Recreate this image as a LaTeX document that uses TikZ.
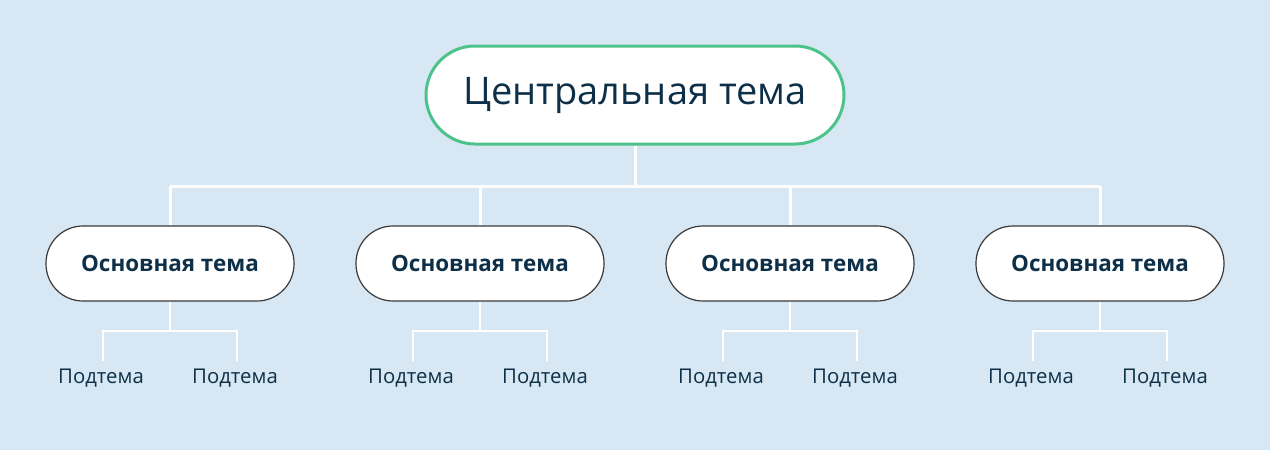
\documentclass[tikz,border=0pt]{standalone}
\usepackage{fontspec}
\setmainfont{Open Sans}
\definecolor{bg}{HTML}{D7E8F4}
\definecolor{ink}{HTML}{0D3048}
\definecolor{green}{HTML}{4CC38A}
\definecolor{edge}{HTML}{3A3A3A}
\tikzset{
  central/.style={draw=green, line width=3pt, fill=white, rounded corners=49pt,
    minimum width=418pt, minimum height=98pt, inner sep=0pt, text=ink,
    font=\fontsize{38}{42}\selectfont},
  mainbox/.style={draw=edge, line width=1.2pt, fill=white, rounded corners=37pt,
    minimum width=248pt, minimum height=75pt, inner sep=0pt, text=ink,
    font=\fontsize{22.4}{26}\selectfont\bfseries},
  subt/.style={text=ink, inner sep=0pt, font=\fontsize{20.3}{24}\selectfont},
  thick link/.style={draw=white, line width=3pt},
  thin link/.style={draw=white, line width=1.8pt},
}
\begin{document}
\begin{tikzpicture}[x=1pt,y=-1pt]
\fill[bg] (0,0) rectangle (1270,450);
\useasboundingbox (0,0) rectangle (1270,450);
\coordinate (bus) at (635,186);
\node[central] (c) at (635,95) {Центральная тема};
\foreach \i/\x in {1/170,2/480,3/790,4/1100}{
  \node[mainbox] (m\i) at (\x,263.5) {Основная тема};
  \coordinate (h\i) at (\x,186);
  \coordinate (s\i) at (\x,331);
  \node[subt] (a\i) at (\x-69,378) {Подтема};
  \node[subt] (b\i) at (\x+65,378) {Подтема};
  \coordinate (la\i) at (\x-67,331);
  \coordinate (lb\i) at (\x+67,331);
}
\draw[thick link] (c.south) -- (bus);
\draw[thick link] (h1) -- (h4);
\foreach \i in {1,2,3,4}{
  \draw[thick link] (h\i) -- (m\i.north);
  \draw[thin link] (m\i.south) -- (s\i);
  \draw[thin link] (la\i) ++(0,30) -- (la\i) -- (lb\i) -- ++(0,30);
}
\end{tikzpicture}
\end{document}
